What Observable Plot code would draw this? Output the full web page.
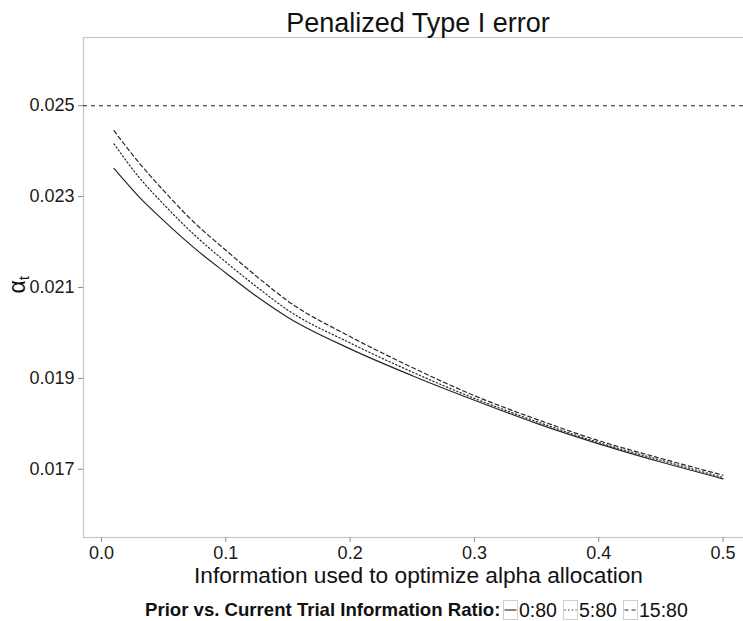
<!DOCTYPE html>
<html>
<head>
<meta charset="utf-8">
<script src="https://cdn.jsdelivr.net/npm/d3@7"></script>
<script src="https://cdn.jsdelivr.net/npm/@observablehq/plot@0.6"></script>
<style>
  html, body { margin: 0; padding: 0; background: #fff; }
  body { width: 743px; height: 621px; overflow: hidden; position: relative;
         font-family: "Liberation Sans", Arial, Helvetica, sans-serif; color: #111; }
  #chart { position: absolute; left: 0; top: 0; z-index: 1; }
  #title { position: absolute; left: 0; top: 10px; width: 836px; text-align: center;
           font-size: 27px; line-height: 27px; color: #111; z-index: 2; white-space: nowrap; }
  #legend { position: absolute; left: 0; top: 600px; width: 743px; height: 20px; z-index: 2; color: #111; }
  #legend .ttl { position: absolute; left: 145px; top: 0; font-weight: bold; font-size: 18.6px; line-height: 20px; white-space: nowrap; }
  #legend .lab { position: absolute; top: 0; font-size: 19.5px; line-height: 20px; white-space: nowrap; }
  #legend svg { position: absolute; top: 0; display: block; }
  g[aria-label="x-axis tick"], g[aria-label="y-axis tick"] { stroke: #8c8c8c; }
  g[aria-label="x-axis tick label"], g[aria-label="y-axis tick label"] { fill: #1a1a1a; }
</style>
</head>
<body>
<div id="chart"></div>
<div id="title"></div>
<div id="legend"></div>
<script>
// ---- data ----
const titleText = "Penalized Type I error";
const xTitle = "Information used to optimize alpha allocation";
const legendTitle = "Prior vs. Current Trial Information Ratio:";
const ratioLabels = ["0:80", "5:80", "15:80"];

const infoUsed    = [0.01, 0.03, 0.05, 0.075, 0.10, 0.125, 0.15, 0.20, 0.25, 0.30, 0.35, 0.40, 0.45, 0.50];
const alpha_0_80  = [0.02362, 0.02300, 0.02247, 0.02186, 0.02132, 0.02080, 0.02034, 0.01965, 0.01906, 0.01852, 0.01801, 0.01756, 0.01716, 0.01679];
const alpha_5_80  = [0.02416, 0.02343, 0.02283, 0.02215, 0.02156, 0.02101, 0.02050, 0.01978, 0.01914, 0.01856, 0.01805, 0.01759, 0.01720, 0.01682];
const alpha_15_80 = [0.02445, 0.02375, 0.02313, 0.02242, 0.02182, 0.02124, 0.02070, 0.01992, 0.01924, 0.01862, 0.01810, 0.01763, 0.01724, 0.01687];
const alphaLevel = 0.025;

const xTicks = [0.0, 0.1, 0.2, 0.3, 0.4, 0.5];
const yTicks = [0.017, 0.019, 0.021, 0.023, 0.025];

// ---- styles ----
const FONT = '"Liberation Sans", Arial, Helvetica, sans-serif';
const dashes = ["none", "1.3,2.4", "4,3"];
const lineColor = "#262626";
const keyBoxX = [503, 563, 623];
const keyLabelX = [519, 579, 639];

const seriesValues = [alpha_0_80, alpha_5_80, alpha_15_80];
const seriesData = seriesValues.map((vals, k) =>
  infoUsed.map((x, i) => ({x, y: vals[i], ratio: ratioLabels[k]})));

document.getElementById("title").textContent = titleText;

const plot = Plot.plot({
  width: 743,
  height: 600,
  marginTop: 37,
  marginBottom: 63,
  marginLeft: 83,
  marginRight: -10,
  style: {fontFamily: FONT, fontSize: "18px", background: "white", overflow: "hidden"},
  x: {domain: [-0.0145, 0.5245], label: null},
  y: {domain: [0.0155, 0.0265], label: null},
  marks: [
    Plot.frame({stroke: "#c4c4c4", strokeWidth: 1.2}),
    Plot.ruleY([alphaLevel], {stroke: lineColor, strokeWidth: 1.1, strokeDasharray: "4,4"}),
    ...seriesData.map((d, k) => Plot.line(d, {
      x: "x", y: "y", stroke: lineColor, strokeWidth: 1.2,
      strokeDasharray: dashes[k] === "none" ? undefined : dashes[k], curve: "monotone-x"
    })),
    Plot.axisX({ticks: xTicks, tickFormat: d3.format(".1f"), tickSize: 5, tickPadding: 4, fontSize: 18, label: null}),
    Plot.axisY({ticks: yTicks, tickFormat: d3.format(".3f"), tickSize: 5, tickPadding: 4, fontSize: 18, label: null}),
    Plot.text([xTitle], {text: d => d, frameAnchor: "bottom", dy: 45, lineAnchor: "bottom", fontSize: 22.7, fill: "#111"}),
    Plot.text(["α"], {text: d => d, frameAnchor: "left", dx: -66, dy: 6, rotate: -90, fontSize: 23, fill: "#111"})
  ]
});
document.getElementById("chart").appendChild(plot);

// subscript t on the y label
d3.select(plot).selectAll("text").filter(function() { return this.textContent === "α"; })
  .append("tspan").attr("font-size", 15).attr("dy", "0.3em").text("t");

// ---- legend ----
const legend = d3.select("#legend");
legend.append("div").attr("class", "ttl").text(legendTitle);
ratioLabels.forEach((lab, k) => {
  const s = legend.append("svg").attr("width", 15).attr("height", 20).style("left", keyBoxX[k] + "px");
  s.append("rect").attr("x", 0.5).attr("y", 0.5).attr("width", 14).attr("height", 19)
    .attr("fill", "white").attr("stroke", "#cfcfcf");
  s.append("line").attr("x1", 1.5).attr("x2", 13.5).attr("y1", 10).attr("y2", 10)
    .attr("stroke", lineColor).attr("stroke-width", 1.1)
    .attr("stroke-dasharray", dashes[k] === "none" ? null : dashes[k]);
  legend.append("div").attr("class", "lab").style("left", keyLabelX[k] + "px").text(lab);
});
</script>
</body>
</html>
